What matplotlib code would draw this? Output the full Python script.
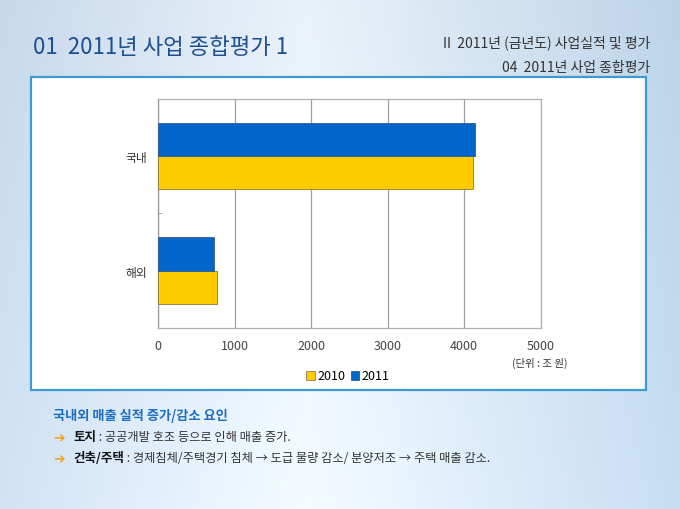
import numpy as np
import matplotlib
matplotlib.use("Agg")
import matplotlib.pyplot as plt
from matplotlib.patches import Rectangle

plt.rcParams['font.family'] = ['Noto Sans CJK KR', 'DejaVu Sans']

categories = ['해외', '국내']
values_2010 = [771, 4110]
values_2011 = [732, 4140]
series_labels = ['2010', '2011']
x_ticks = [0, 1000, 2000, 3000, 4000, 5000]

W, H = 680, 510
fig = plt.figure(figsize=(W / 100, H / 100), dpi=100)

# background gradient
bg = fig.add_axes([0, 0, 1, 1])
bg.set_axis_off()
xx = np.linspace(0, 1, 200)
yy = np.linspace(0, 1, 150)
X, Y = np.meshgrid(xx, yy)
c_left = np.array([0.78, 0.85, 0.92])
c_mid = np.array([0.92, 0.95, 0.98])
c_right = np.array([0.74, 0.83, 0.91])
t = X[..., None]
col = np.where(t < 0.45, c_left + (c_mid - c_left) * (t / 0.45),
               c_mid + (c_right - c_mid) * ((t - 0.45) / 0.55))
col = col + (Y[..., None] * 0.04)
col = np.clip(col, 0, 1)
bg.imshow(col, extent=[0, 1, 0, 1], aspect='auto', origin='upper')
bg.set_xlim(0, 1)
bg.set_ylim(0, 1)

def fx(px):
    return px / W

def fy(py):
    return 1 - py / H

# white chart box
bg.add_patch(Rectangle((fx(31), fy(391)), fx(646) - fx(31), fy(78) - fy(391),
                       facecolor='white', edgecolor='#3d9bd1', linewidth=1.6, zorder=3))

# titles
fig.text(fx(33), fy(48), '01  2011년 사업 종합평가 1', fontsize=16, color='#1d4f91',
         va='center', ha='left')
fig.text(fx(650), fy(43), 'II  2011년 (금년도) 사업실적 및 평가', fontsize=10, color='#333333',
         va='center', ha='right')
fig.text(fx(650), fy(68), '04  2011년 사업 종합평가', fontsize=10, color='#333333',
         va='center', ha='right')

# chart
ax = fig.add_axes([158.3 / W, 1 - 328.7 / H, (540.7 - 158.3) / W, (328.7 - 100) / H])
ax.set_zorder(5)
y = np.arange(len(categories))
h = 0.289
ax.barh(y - h / 2, values_2010, height=h, color='#ffcc00', edgecolor='#8a7a40',
        linewidth=0.6, label=series_labels[0], zorder=3)
ax.barh(y + h / 2, values_2011, height=h, color='#0066cc', edgecolor='#3a5a8a',
        linewidth=0.6, label=series_labels[1], zorder=3)
ax.set_xlim(0, 5000)
ax.set_ylim(-0.5, 1.5)
ax.set_xticks(x_ticks)
ax.set_xticklabels([str(v) for v in x_ticks], fontsize=9, color='#444444')
ax.set_yticks(y)
ax.set_yticklabels(categories, fontsize=8.5, color='#333333')
ax.set_yticks([0.5], minor=True)
ax.tick_params(axis='y', which='major', length=0, pad=8)
ax.tick_params(axis='y', which='minor', length=3, direction='in', color='#999999')
ax.tick_params(axis='x', length=0, pad=8)
ax.grid(axis='x', color='#a0a0a0', linewidth=0.9, zorder=0)
for s in ax.spines.values():
    s.set_color('#b0b0b0')
    s.set_linewidth(0.9)
ax.spines['left'].set_color('#999999')

leg = fig.legend(loc='center', bbox_to_anchor=(fx(348), fy(377)), ncol=2, frameon=False,
                 fontsize=9, handlelength=0.7, handleheight=0.7, handletextpad=0.2,
                 columnspacing=0.4)
leg.set_zorder(6)

fig.text(fx(568), fy(363), '(단위 : 조 원)', fontsize=7.5, color='#333333',
         ha='right', va='center', zorder=6)

# bottom notes
fig.text(fx(53), fy(416), '국내외 매출 실적 증가/감소 요인', fontsize=9.5, color='#1a6fc4',
         fontweight='bold', ha='left', va='center')
arrow_font = ['DejaVu Sans']
for py, bold, rest in [
    (438, '토지', ' : 공공개발 호조 등으로 인해 매출 증가.'),
    (459, '건축/주택', ' : 경제침체/주택경기 침체 → 도급 물량 감소/ 분양저조 → 주택 매출 감소.'),
]:
    fig.text(fx(53), fy(py), '➔', fontsize=10, color='#f2a31b', family=arrow_font,
             ha='left', va='center', fontweight='bold')
    tb = fig.text(fx(73), fy(py), bold, fontsize=9, color='#111111', fontweight='bold',
                  ha='left', va='center')
    fig.canvas.draw()
    bb = tb.get_window_extent()
    fig.text(bb.x1 / W, fy(py), rest, fontsize=8.8, color='#333333',
             ha='left', va='center', family=['Noto Sans CJK KR', 'DejaVu Sans'])

fig.savefig('out.png', dpi=100)
